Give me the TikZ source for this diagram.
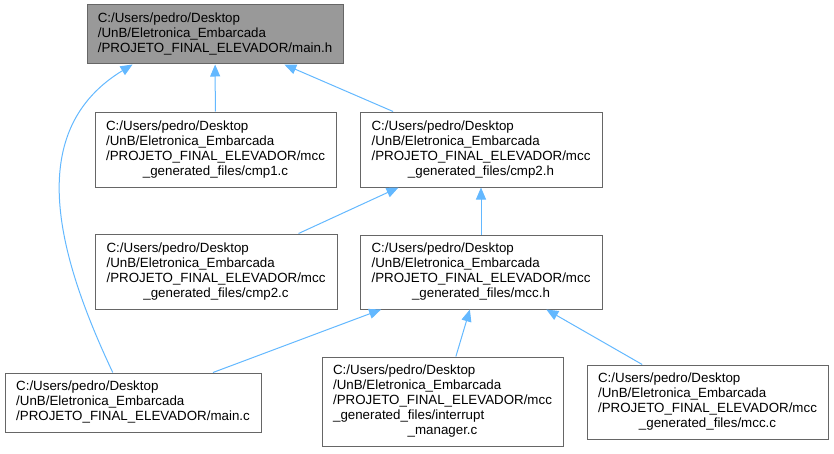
\documentclass[tikz,border=0pt]{standalone}
\usepackage{fontspec}
\setmainfont{Liberation Sans}
\usetikzlibrary{arrows.meta}

\definecolor{edgeblue}{HTML}{63B8FF}
\definecolor{boxgray}{HTML}{666666}
\definecolor{rootgray}{HTML}{999999}

% lines left aligned, the last one centred
\newcommand{\flabel}[2]{\begin{tabular}{@{}l@{}}#1\\\multicolumn{1}{@{}c@{}}{#2}\end{tabular}}

\begin{document}
\begin{tikzpicture}[
    x=0.75pt, y=-0.75pt,
    file/.style={
      draw=boxgray, line width=0.75pt, fill=white, inner sep=0pt,
      font=\fontsize{10}{11.25}\selectfont
    },
    root/.style={file, fill=rootgray},
    sz/.style 2 args={minimum width=#1*0.75pt, minimum height=#2*0.75pt},
    inc/.style={-{Triangle[length=9pt, width=7.5pt]}, line width=0.75pt, edgeblue},
  ]
    \useasboundingbox (0,0) rectangle (834,453);

    \node[root, sz={256}{59}] (mainh) at (215,34.5) {\flabel{C:/Users/pedro/Desktop\\/UnB/Eletronica\_Embarcada}{/PROJETO\_FINAL\_ELEVADOR/main.h}};
    \node[file, sz={241}{75}] (cmp1c) at (215.5,149.5) {\flabel{C:/Users/pedro/Desktop\\/UnB/Eletronica\_Embarcada\\/PROJETO\_FINAL\_ELEVADOR/mcc}{\_generated\_files/cmp1.c}};
    \node[file, sz={242}{75}] (cmp2h) at (481,149.5) {\flabel{C:/Users/pedro/Desktop\\/UnB/Eletronica\_Embarcada\\/PROJETO\_FINAL\_ELEVADOR/mcc}{\_generated\_files/cmp2.h}};
    \node[file, sz={242}{75}] (cmp2c) at (216,271.5) {\flabel{C:/Users/pedro/Desktop\\/UnB/Eletronica\_Embarcada\\/PROJETO\_FINAL\_ELEVADOR/mcc}{\_generated\_files/cmp2.c}};
    \node[file, sz={242}{74}] (mcch) at (481,272) {\flabel{C:/Users/pedro/Desktop\\/UnB/Eletronica\_Embarcada\\/PROJETO\_FINAL\_ELEVADOR/mcc}{\_generated\_files/mcc.h}};
    \node[file, sz={256}{59}] (mainc) at (133,402.5) {\flabel{C:/Users/pedro/Desktop\\/UnB/Eletronica\_Embarcada}{/PROJETO\_FINAL\_ELEVADOR/main.c}};
    \node[file, sz={241}{89}] (intmgr) at (442.5,401.5) {\flabel{C:/Users/pedro/Desktop\\/UnB/Eletronica\_Embarcada\\/PROJETO\_FINAL\_ELEVADOR/mcc\\\_generated\_files/interrupt}{\_manager.c}};
    \node[file, sz={241}{74}] (mccc) at (707.5,402) {\flabel{C:/Users/pedro/Desktop\\/UnB/Eletronica\_Embarcada\\/PROJETO\_FINAL\_ELEVADOR/mcc}{\_generated\_files/mcc.c}};

    \draw[inc] (cmp1c) -- (mainh);
    \draw[inc] (cmp2h) -- (mainh);
    \draw[inc] (mainc.124) .. controls (55,250) and (25,130) .. (mainh.200);
    \draw[inc] (cmp2c) -- (cmp2h);
    \draw[inc] (mcch) -- (cmp2h);
    \draw[inc] (mainc) -- (mcch);
    \draw[inc] (intmgr) -- (mcch);
    \draw[inc] (mccc) -- (mcch);
\end{tikzpicture}
\end{document}
